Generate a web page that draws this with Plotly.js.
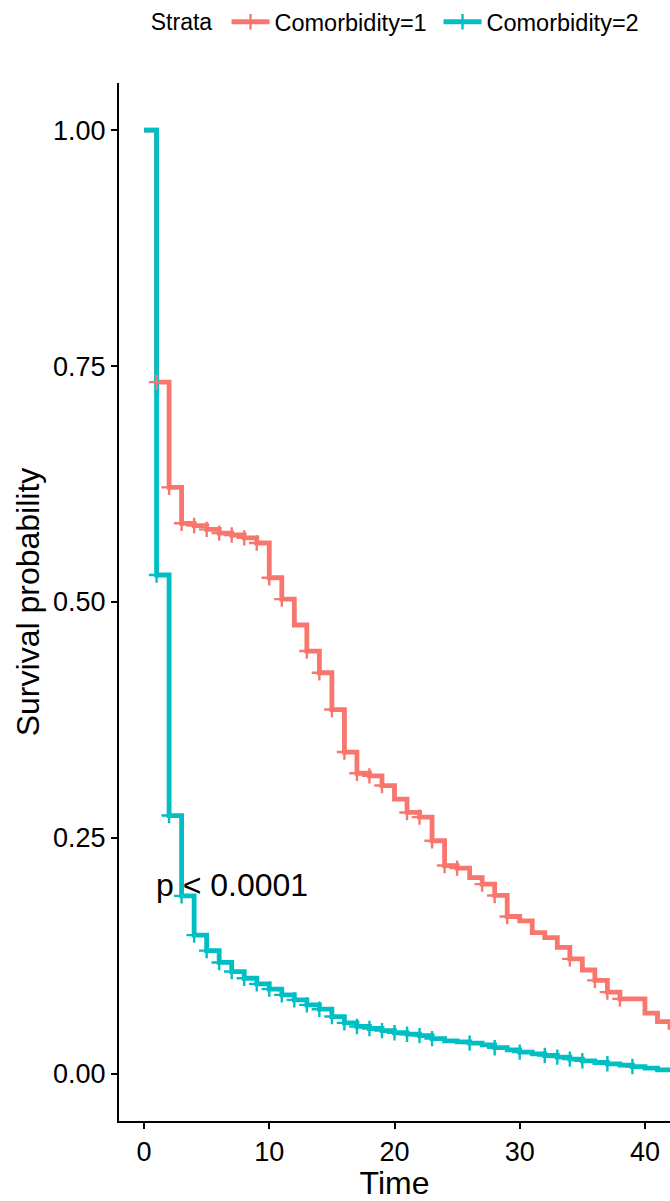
<!DOCTYPE html>
<html>
<head>
<meta charset="utf-8">
<script src="https://cdn.plot.ly/plotly-3.0.1.min.js"></script>
<style>
  html, body { margin: 0; padding: 0; background: #ffffff; }
  #chart { width: 670px; height: 1201px; }
</style>
</head>
<body>
<div id="chart"></div>
<script>
// Kaplan-Meier survival estimates by comorbidity stratum (one value per time unit)
const timeGrid = [0, 1, 2, 3, 4, 5, 6, 7, 8, 9, 10, 11, 12, 13, 14, 15, 16, 17, 18, 19, 20,
  21, 22, 23, 24, 25, 26, 27, 28, 29, 30, 31, 32, 33, 34, 35, 36, 37, 38, 39, 40, 41, 42];

const survComorbidity1 = [1.0, 0.733, 0.6215, 0.5834, 0.581, 0.577, 0.573, 0.571, 0.568, 0.5625,
  0.5257, 0.503, 0.4756, 0.448, 0.425, 0.386, 0.341, 0.3185, 0.3157, 0.3055,
  0.291, 0.277, 0.272, 0.247, 0.2207, 0.218, 0.208, 0.201, 0.189, 0.1667,
  0.162, 0.1497, 0.1444, 0.134, 0.1218, 0.110, 0.099, 0.0866, 0.0794, 0.0794,
  0.0643, 0.0554, 0.0466];

const survComorbidity2 = [1.0, 0.5286, 0.2737, 0.1886, 0.147, 0.1306, 0.118, 0.1084, 0.1013, 0.0953,
  0.0897, 0.0837, 0.0784, 0.0731, 0.0685, 0.0607, 0.054, 0.0502, 0.048, 0.0458,
  0.0435, 0.042, 0.0405, 0.0373, 0.035, 0.0339, 0.0325, 0.0307, 0.0277, 0.0254,
  0.023, 0.0212, 0.0194, 0.0177, 0.0156, 0.0138, 0.012, 0.0106, 0.0092, 0.0077,
  0.006, 0.0042, 0.003];

// Times with censored observations
const censorComorbidity1 = [1, 2, 3, 4, 5, 6, 7, 8, 9, 10, 11, 13, 14, 15, 16, 17, 18, 19,
  21, 22, 23, 24, 25, 27, 28, 29, 34, 36, 37, 38];
const censorComorbidity2 = [1, 2, 3, 4, 5, 6, 7, 8, 9, 10, 11, 12, 13, 14, 15, 16, 17, 18, 19,
  20, 21, 22, 23, 26, 28, 30, 32, 33, 34, 35, 37, 39];

const strataNames = ['Comorbidity=1', 'Comorbidity=2'];
const strataColors = ['#F8766D', '#00BFC4'];
const legendTitle = 'Strata';
const xTickValues = [0, 10, 20, 30, 40];
const yTickValues = [0, 0.25, 0.5, 0.75, 1];
const yTickLabels = ['0.00', '0.25', '0.50', '0.75', '1.00'];
const pValueText = 'p < 0.0001';
const pValuePos = [0.8, 0.2];

const FONT = 'Liberation Sans, Arial, Helvetica, sans-serif';
const LINE_W = 4.8;
const MARK_SIZE = 11;
const MARK_LINE = 2.4;

function survAt(times, surv, t) {
  let v = surv[0];
  for (let i = 0; i < times.length; i++) { if (times[i] <= t) v = surv[i]; }
  return v;
}

const curves = [survComorbidity1, survComorbidity2];
const censors = [censorComorbidity1, censorComorbidity2];
const traces = [];

// step lines
curves.forEach((surv, k) => {
  traces.push({
    type: 'scatter', mode: 'lines', x: timeGrid, y: surv,
    line: { shape: 'hv', color: strataColors[k], width: LINE_W },
    showlegend: false, hoverinfo: 'skip'
  });
});

// censoring marks on top of both lines
censors.forEach((ct, k) => {
  traces.push({
    type: 'scatter', mode: 'markers', x: ct,
    y: ct.map(t => survAt(timeGrid, curves[k], t)),
    marker: { symbol: 'cross-thin', size: MARK_SIZE, color: strataColors[k],
              line: { color: strataColors[k], width: MARK_LINE } },
    showlegend: false, hoverinfo: 'skip'
  });
});

// legend entries (line with a cross)
strataNames.forEach((name, k) => {
  traces.push({
    type: 'scatter', mode: 'lines+markers', x: [null], y: [null], name: name,
    line: { color: strataColors[k], width: LINE_W },
    marker: { symbol: 'cross-thin', size: MARK_SIZE, color: strataColors[k],
              line: { color: strataColors[k], width: MARK_LINE } }
  });
});

const axisCommon = {
  showline: true, linecolor: '#000000', linewidth: 2,
  ticks: 'outside', ticklen: 6, tickwidth: 2, tickcolor: '#000000',
  showgrid: false, zeroline: false, automargin: false,
  tickfont: { family: FONT, size: 27, color: '#000000' }
};

const layout = {
  width: 670, height: 1201,
  paper_bgcolor: '#ffffff', plot_bgcolor: '#ffffff',
  margin: { l: 119, r: 0, t: 83, b: 80, pad: 0 },
  font: { family: FONT, color: '#000000' },
  xaxis: Object.assign({}, axisCommon, {
    range: [-2, 42], tickvals: xTickValues,
    title: { text: 'Time', font: { family: FONT, size: 32, color: '#000000' }, standoff: 4 }
  }),
  yaxis: Object.assign({}, axisCommon, {
    range: [-0.05, 1.05], tickvals: yTickValues, ticktext: yTickLabels,
    title: { text: 'Survival probability', font: { family: FONT, size: 32, color: '#000000' }, standoff: 4 }
  }),
  legend: {
    orientation: 'h', xref: 'container', yref: 'container',
    x: 0.222, xanchor: 'left', y: 0.9817, yanchor: 'middle',
    font: { family: FONT, size: 23.5, color: '#000000' },
    title: { text: legendTitle + '\u00a0', side: 'left', font: { family: FONT, size: 23, color: '#000000' } },
    itemwidth: 38, entrywidth: 159, entrywidthmode: 'pixels', bgcolor: 'rgba(0,0,0,0)'
  },
  annotations: [{
    x: pValuePos[0], y: pValuePos[1], xref: 'x', yref: 'y',
    text: pValueText, showarrow: false, xanchor: 'left', yanchor: 'middle',
    font: { family: FONT, size: 32, color: '#000000' }
  }],
  showlegend: true
};

Plotly.newPlot('chart', traces, layout, { displayModeBar: false, staticPlot: true });
</script>
</body>
</html>
